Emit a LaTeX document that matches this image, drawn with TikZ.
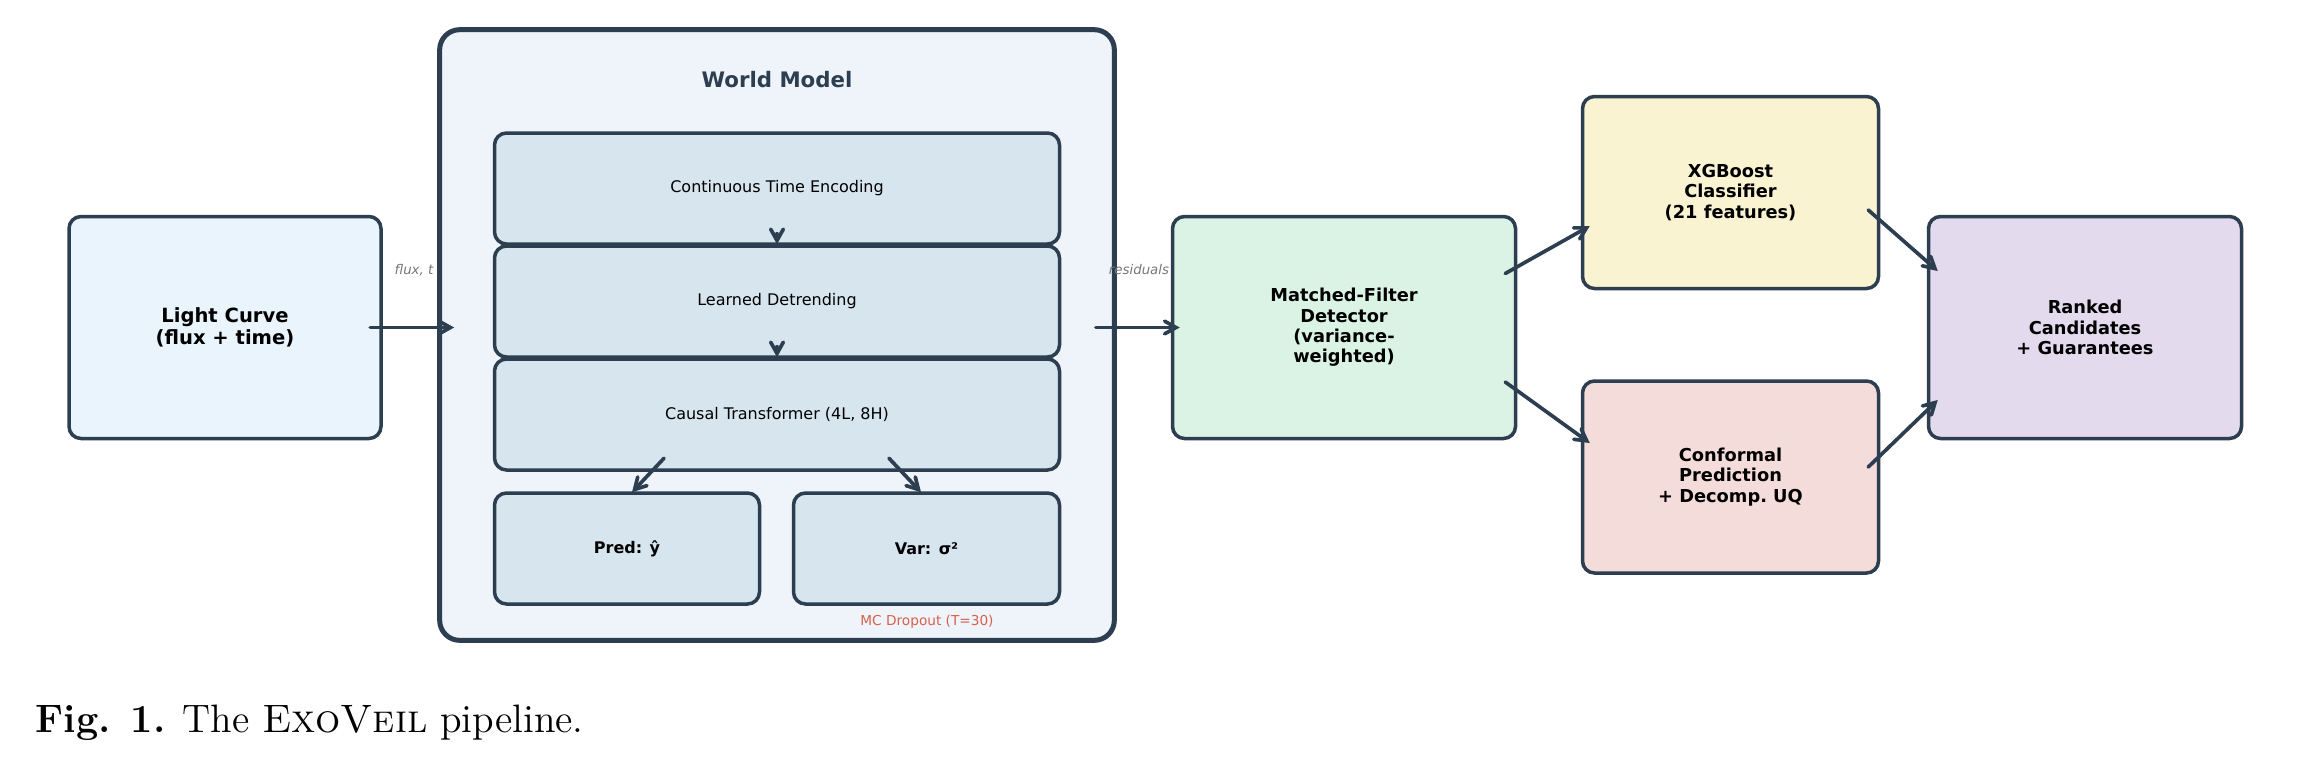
\documentclass[tikz,border=0pt]{standalone}
\usepackage{fontspec}
\newfontfamily\dv{DejaVu Sans}
\usetikzlibrary{arrows.meta,calc}
\definecolor{edge}{HTML}{2C3E50}
\definecolor{lcfill}{HTML}{EAF4FC}
\definecolor{wmfill}{HTML}{EEF4FA}
\definecolor{infill}{HTML}{D7E5EF}
\definecolor{mffill}{HTML}{DBF3E4}
\definecolor{xgfill}{HTML}{F9F3D2}
\definecolor{cffill}{HTML}{F4DCDA}
\definecolor{rkfill}{HTML}{E3DAEE}
\definecolor{mcred}{HTML}{D6604D}
\definecolor{lblgray}{HTML}{777777}
\tikzset{
  box/.style={draw=edge, line width=1.05pt, rounded corners=3.6pt, inner sep=0pt, align=center},
  bigbf/.style={font=\dv\bfseries\fontsize{5.87pt}{6.6pt}\selectfont},
  midbf/.style={font=\dv\bfseries\fontsize{5.34pt}{6.1pt}\selectfont},
  inner/.style={font=\dv\fontsize{4.8pt}{5.6pt}\selectfont},
  innerbf/.style={font=\dv\bfseries\fontsize{4.8pt}{5.6pt}\selectfont},
  arr/.style={draw=edge, line width=1.1pt, line cap=round, -{Straight Barb[length=3.4pt,width=3.8pt,line cap=round]}},
  lbl/.style={font=\dv\itshape\fontsize{4.0pt}{4.6pt}\selectfont, text=lblgray, inner sep=0pt}
}
\begin{document}
\begin{tikzpicture}[x=0.3pt,y=-0.3pt]
\useasboundingbox (0,0) rectangle (2298,762);
% left box
\node[box, bigbf, fill=lcfill, minimum width=93.6pt, minimum height=66.6pt] (lc) at (225,327.5) {Light Curve\\(flux + time)};
% world model
\node[box, fill=wmfill, line width=1.5pt, rounded corners=6pt, minimum width=202.4pt, minimum height=183.2pt] (wm) at (777,335) {};
\node[font=\dv\bfseries\fontsize{6.4pt}{7.4pt}\selectfont, text=edge] (wmt) at (777,80) {World Model};
\node[box, inner, fill=infill, minimum width=169.5pt, minimum height=33.3pt] (cte) at (777,188.5) {Continuous Time Encoding};
\node[box, inner, fill=infill, minimum width=169.5pt, minimum height=33.3pt] (ld) at (777,301.5) {Learned Detrending};
\node[box, inner, fill=infill, minimum width=169.5pt, minimum height=33.3pt] (ct) at (777,414.5) {Causal Transformer (4L, 8H)};
\node[box, innerbf, fill=infill, minimum width=79.5pt, minimum height=33.3pt] (pred) at (627,548.5) {Pred: ŷ};
\node[box, innerbf, fill=infill, minimum width=79.8pt, minimum height=33.3pt] (var) at (926.5,548.5) {Var: σ²};
\node[font=\dv\fontsize{4.1pt}{4.8pt}\selectfont, text=mcred, inner sep=0pt] (mc) at (927,622) {MC Dropout (T=30)};
% right side
\node[box, midbf, fill=mffill, minimum width=102.9pt, minimum height=66.6pt] (mf) at (1344,327.5) {Matched-Filter\\Detector\\(variance-\\weighted)};
\node[box, midbf, fill=xgfill, minimum width=88.8pt, minimum height=57.6pt] (xgb) at (1730.5,192.5) {XGBoost\\Classifier\\(21 features)};
\node[box, midbf, fill=cffill, minimum width=88.8pt, minimum height=57.6pt] (conf) at (1730.5,477) {Conformal\\Prediction\\+ Decomp.\ UQ};
\node[box, midbf, fill=rkfill, minimum width=93.9pt, minimum height=66.6pt] (rk) at (2085,327.5) {Ranked\\Candidates\\+ Guarantees};
% labels
\node[lbl] (l1) at (414,270) {flux, t};
\node[lbl] (l2) at (1139,270) {residuals};
% arrows
\draw[arr] ($(lc.east)+(-12.5,0)$) -- ($(wm.west |- lc.east)+(17,0)$);
\draw[arr] ($(wm.east |- mf.west)+(-21,0)$) -- ($(mf.west)+(9,0)$);
\draw[arr] ($(cte.south)+(0,-12)$) -- (ld.north);
\draw[arr] ($(ld.south)+(0,-12)$) -- (ct.north);
\draw[arr] ($(ct.south)+(-113,-13.5)$) -- ($(pred.north)+(5,1)$);
\draw[arr] ($(ct.south)+(112,-13.5)$) -- ($(var.north)+(-5.5,1)$);
\draw[arr] ($(mf.east)+(-12,-54)$) -- ($(xgb.west)+(9,33.5)$);
\draw[arr] ($(mf.east)+(-12,54.5)$) -- ($(conf.west)+(9,-34)$);
\draw[arr] ($(xgb.east)+(-12,17.5)$) -- ($(rk.west)+(11,-56.5)$);
\draw[arr] ($(conf.east)+(-12,-10)$) -- ($(rk.west)+(11,72.5)$);
% caption
\node[anchor=base west, inner sep=0pt, font=\fontsize{11.9pt}{14pt}\selectfont] (cap) at (35,732) {\textbf{Fig. 1.} The \textsc{ExoVeil} pipeline.};
\end{tikzpicture}
\end{document}
